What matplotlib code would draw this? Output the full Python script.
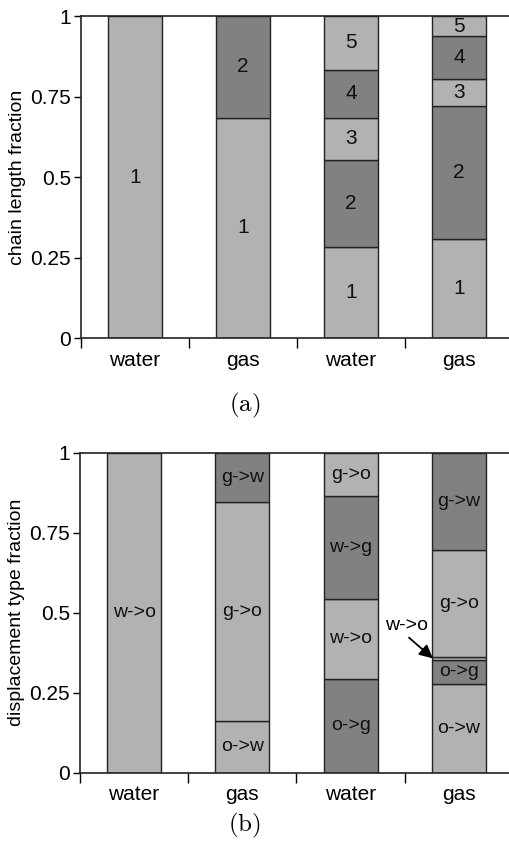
import matplotlib
matplotlib.use("Agg")
import matplotlib.pyplot as plt

plt.rcParams['font.family'] = ['Liberation Sans', 'DejaVu Sans']
plt.rcParams['mathtext.fontset'] = 'cm'

cats = ['water', 'gas', 'water', 'gas']
light = '#b2b2b2'
dark = '#818181'

# (a) chain length fractions, bottom to top
chain_vals = [[1.0],
              [0.685, 0.315],
              [0.284, 0.271, 0.130, 0.149, 0.166],
              [0.308, 0.412, 0.085, 0.133, 0.062]]
chain_labels = [['1'],
                ['1', '2'],
                ['1', '2', '3', '4', '5'],
                ['1', '2', '3', '4', '5']]
chain_cols = [[light],
              [light, dark],
              [light, dark, light, dark, light],
              [light, dark, light, dark, light]]

# (b) displacement type fractions, bottom to top
disp_vals = [[1.0],
             [0.160, 0.687, 0.153],
             [0.294, 0.250, 0.320, 0.136],
             [0.278, 0.073, 0.010, 0.335, 0.304]]
disp_labels = [['w->o'],
               ['o->w', 'g->o', 'g->w'],
               ['o->g', 'w->o', 'w->g', 'g->o'],
               ['o->w', 'o->g', '', 'g->o', 'g->w']]
disp_cols = [[light],
             [light, light, dark],
             [dark, light, dark, light],
             [light, dark, light, light, dark]]

fig = plt.figure(figsize=(5.09, 8.48), dpi=100)
ax1 = fig.add_axes([0.159, 0.601, 0.841, 0.380])
ax2 = fig.add_axes([0.157, 0.089, 0.843, 0.377])


def stacked(ax, vals, labels, cols, fs):
    for i, (v, lab, c) in enumerate(zip(vals, labels, cols)):
        bottom = 0
        for h, t, col in zip(v, lab, c):
            ax.bar(i, h, bottom=bottom, width=0.5, color=col,
                   edgecolor='#222222', linewidth=1.0)
            if t:
                ax.text(i, bottom + h / 2, t, ha='center', va='center',
                        fontsize=fs, color='#111111')
            bottom += h
    ax.set_xlim(-0.5, 3.463)
    ax.set_ylim(0, 1)
    ax.set_yticks([0, 0.25, 0.5, 0.75, 1])
    ax.set_yticklabels(['0', '0.25', '0.5', '0.75', '1'], fontsize=15)
    ax.set_xticks([-0.5, 0.5, 1.5, 2.5])
    ax.set_xticklabels([])
    ax.set_xticks(range(4), minor=True)
    ax.set_xticklabels(cats, minor=True, fontsize=15)
    ax.tick_params(axis='x', which='major', direction='out', length=7, width=1)
    ax.tick_params(axis='x', which='minor', length=0, pad=9)
    ax.tick_params(axis='y', direction='out', length=5, width=1, pad=2)
    ax.spines['right'].set_visible(False)
    for s in ['left', 'bottom', 'top']:
        ax.spines[s].set_linewidth(1.2)
        ax.spines[s].set_color('#222222')


stacked(ax1, chain_vals, chain_labels, chain_cols, 15)
ax1.set_ylabel('chain length fraction', fontsize=14, labelpad=3)

stacked(ax2, disp_vals, disp_labels, disp_cols, 14)
ax2.set_ylabel('displacement type fraction', fontsize=14, labelpad=3)
ax2.annotate('w->o', xy=(2.76, 0.357), xytext=(2.52, 0.46),
             ha='center', va='center', fontsize=14,
             arrowprops=dict(arrowstyle='-|>', color='black', lw=1.3,
                             mutation_scale=20, shrinkA=1, shrinkB=0,
                             relpos=(0.45, 0.0)))

fig.text(0.48, 0.522, r'$\mathrm{(a)}$', ha='center', va='center', fontsize=18)
fig.text(0.48, 0.027, r'$\mathrm{(b)}$', ha='center', va='center', fontsize=18)

fig.savefig('out.png', dpi=100)
